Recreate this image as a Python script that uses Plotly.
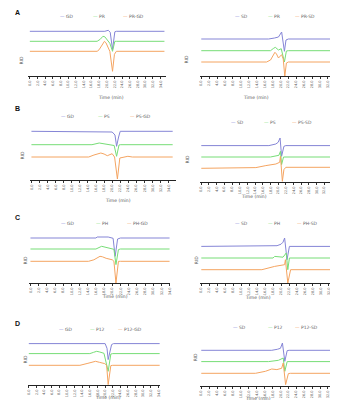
import plotly.graph_objects as go

# ---------------- DATA (time in min, signal in arbitrary units) ----------------
BLUE, GREEN, ORANGE = "#8585d6", "#77dd77", "#f4a461"

# Panel A (left): GD / PR / PR-GD
A1_names = ["GD", "PR", "PR-GD"]
A1_GD_t = [0, 19.5, 20.4, 20.9, 21.5, 22.1, 22.5, 35]
A1_GD_v = [20, 20, 21, 19, 1.7, 19.5, 20, 20]
A1_PR_t = [0, 17.5, 18.3, 19.0, 19.5, 20.0, 20.8, 21.5, 22.1, 22.5, 35]
A1_PR_v = [10, 10, 12, 15, 14.5, 12, 8, 0, 10, 10, 10]
A1_PRGD_t = [0, 17.5, 18.0, 18.5, 19.0, 19.4, 19.8, 20.2, 20.8, 21.5, 22.0, 22.5, 35]
A1_PRGD_v = [0, 0, 1.5, 5, 8.5, 10, 8.5, 5, 0, -20, -3, 0, 0]

# Panel A (right): SD / PR / PR-SD
A2_names = ["SD", "PR", "PR-SD"]
A2_SD_t = [0, 17.0, 18.5, 19.5, 20.3, 20.7, 21.0, 21.4, 22, 35]
A2_SD_v = [23, 23, 24, 25, 30, 20, 10.7, 22, 23, 23]
A2_PR_t = [0, 17.5, 18.2, 18.7, 19.5, 20.2, 21.0, 21.5, 22, 35]
A2_PR_v = [11.3, 11.3, 13.5, 14.7, 12, 13.3, 0, 11, 11.3, 11.3]
A2_PRSD_t = [0, 16.5, 17.5, 18.1, 18.6, 19.0, 19.5, 20.3, 20.7, 21.1, 21.5, 22, 35]
A2_PRSD_v = [0, 0, 2, 7, 9.7, 8, 4, 7.3, 3, -14.3, -1, 0, 0]

# Panel B (left): GD / PS / PS-GD
B1_names = ["GD", "PS", "PS-GD"]
B1_GD_t = [0, 19.0, 20.0, 20.7, 21.1, 21.6, 22.0, 35]
B1_GD_v = [25.7, 25.7, 25, 22, 10.7, 20, 25.7, 25.7]
B1_PS_t = [0, 15, 16.8, 19, 20.5, 21.1, 21.7, 22, 35]
B1_PS_v = [12.3, 12.3, 14, 12.3, 11.5, 0.7, 12, 12.3, 12.3]
B1_PSGD_t = [0, 14.2, 15.5, 16.5, 17.2, 18.0, 18.8, 20.0, 20.6, 21.3, 21.9, 23.9, 25, 35]
B1_PSGD_v = [0, 0, 2, 3.5, 4, 3, 1.3, 3.3, 0, -22, -1, 0.7, 0, 0]

# Panel B (right): SD / PS / PS-SD
B2_names = ["SD", "PS", "PS-SD"]
B2_SD_t = [0, 17.6, 19.4, 20.0, 20.5, 20.9, 21.5, 22, 35]
B2_SD_v = [22.7, 22.7, 24.3, 26, 30.3, 12, 22, 22.7, 22.7]
B2_PS_t = [0, 18, 20.2, 20.6, 20.9, 21.4, 35]
B2_PS_v = [11.3, 11.3, 13, 17, 3.7, 11.3, 11.3]
B2_PSSD_t = [0, 14.2, 16.8, 19.4, 20.4, 20.6, 21.1, 21.5, 22, 35]
B2_PSSD_v = [0, 0.7, 2.7, 4.3, 6, 12, -13, -1.3, 1, 1]

# Panel C (left): GD / PH / PH-GD
C1_names = ["GD", "PH", "PH-GD"]
C1_GD_t = [0, 16.0, 16.3, 19.0, 20.2, 20.7, 21.3, 22, 35]
C1_GD_v = [23.3, 23.3, 24.3, 24.3, 23, 5, 22.3, 23.3, 23.3]
C1_PH_t = [0, 16, 17.4, 19.5, 20.4, 20.9, 21.5, 22, 35]
C1_PH_v = [12.3, 12.3, 15, 13.3, 12, -3.3, 11.7, 12.3, 12.3]
C1_PHGD_t = [0, 14.2, 15.5, 16.5, 17.0, 17.6, 18.5, 20.0, 20.4, 20.9, 21.5, 22, 35]
C1_PHGD_v = [0, 0, 1.5, 3.5, 5, 4.5, 3, 1.5, 0, -21.7, 0, 0, 0]

# Panel C (right): SD / PH / PH-SD
C2_names = ["SD", "PH", "PH-SD"]
C2_SD_t = [0, 17.6, 19.0, 20.0, 20.5, 20.9, 21.5, 22.1, 35]
C2_SD_v = [23.3, 23.3, 24, 25.5, 27.5, 31.7, 10, 23.3, 23.3]
C2_PH_t = [0, 18, 18.4, 20.5, 21.3, 21.7, 22.1, 35]
C2_PH_v = [11.7, 11.7, 13.3, 12.5, 16.7, 0, 11.7, 11.7]
C2_PHSD_t = [0, 15.2, 18.4, 20.9, 21.1, 21.7, 22.4, 35]
C2_PHSD_v = [0, 0, 3.3, 5, 10, -13.3, 0, 0]

# Panel D (left): GD / P12 / P12-GD
D1_names = ["GD", "P12", "P12-GD"]
D1_GD_t = [0, 17, 18.2, 20.0, 20.5, 20.8, 21.7, 22.2, 35]
D1_GD_v = [21.7, 21.7, 22.3, 21.7, 17, 5.7, 20.7, 21.7, 21.7]
D1_P12_t = [0, 16, 17.0, 17.8, 18.6, 19.7, 20.8, 21.5, 22, 35]
D1_P12_v = [11.7, 11.7, 13, 14, 13.3, 12, -6, 11.3, 11.7, 11.7]
D1_P12GD_t = [0, 13.4, 15.5, 16.7, 17.5, 18.5, 19.9, 20.4, 20.8, 21.5, 22, 35]
D1_P12GD_v = [0, 0, 2, 3.5, 4, 3, 1.7, 0, -19.3, -0.3, 0, 0]

# Panel D (right): SD / P12 / P12-SD
D2_names = ["SD", "P12", "P12-SD"]
D2_SD_t = [0, 17.8, 19.2, 20.0, 20.5, 21.1, 21.7, 22.2, 35]
D2_SD_v = [23, 23, 24, 25, 30.3, 12, 22.7, 23, 23]
D2_P12_t = [0, 17, 19.5, 20.7, 21.1, 21.7, 35]
D2_P12_v = [11.7, 11.7, 13, 15.3, 2, 11.7, 11.7]
D2_P12SD_t = [0, 13.7, 16.2, 17.8, 19.1, 20.3, 20.7, 21.3, 22.0, 22.5, 35]
D2_P12SD_v = [0, 0, 2, 4.3, 3.7, 5, 10.3, -11.3, -0.3, 0, 0]

tick_vals = [i * 2 for i in range(18)]
tick_text = [f"{v:.1f}" for v in tick_vals]
x_title = "Time (min)"
y_title = "RID"
panel_letters = ["A", "B", "C", "D"]

# ---------------- LAYOUT ----------------
W, H = 338, 400
def px(x): return x / W
def py(y): return 1 - y / H

panels = [
    dict(s=[(A1_GD_t, A1_GD_v), (A1_PR_t, A1_PR_v), (A1_PRGD_t, A1_PRGD_v)], n=A1_names,
         x0=19, x1=158, xr=[-0.52, 35.3], yt=14, yb=68, yr=[-24.7, 29.3],
         ly=8, lx=[49, 83, 113], yt_pos=(8, 46), xt_pos=(88, 85)),
    dict(s=[(A2_SD_t, A2_SD_v), (A2_PR_t, A2_PR_v), (A2_PRSD_t, A2_PRSD_v)], n=A2_names,
         x0=193, x1=331, xr=[-0.25, 34.3], yt=14, yb=68, yr=[-14, 40],
         ly=8, lx=[226, 259, 287], yt_pos=(179, 45), xt_pos=(264, 85)),
    dict(s=[(B1_GD_t, B1_GD_v), (B1_PS_t, B1_PS_v), (B1_PSGD_t, B1_PSGD_v)], n=B1_names,
         x0=21, x1=168, xr=[-0.4, 35.7], yt=110, yb=172, yr=[-23, 39],
         ly=109, lx=[50, 88, 120], yt_pos=(10, 147), xt_pos=(95, 192)),
    dict(s=[(B2_SD_t, B2_SD_v), (B2_PS_t, B2_PS_v), (B2_PSSD_t, B2_PSSD_v)], n=B2_names,
         x0=193, x1=327, xr=[-0.26, 34.3], yt=122, yb=174, yr=[-13.7, 38.3],
         ly=115, lx=[222, 255, 284], yt_pos=(181, 151), xt_pos=(262, 189)),
    dict(s=[(C1_GD_t, C1_GD_v), (C1_PH_t, C1_PH_v), (C1_PHGD_t, C1_PHGD_v)], n=C1_names,
         x0=20, x1=162, xr=[-0.4, 34.0], yt=220, yb=275, yr=[-21.7, 33.3],
         ly=215, lx=[50, 86, 117], yt_pos=(12, 252), xt_pos=(92, 293)),
    dict(s=[(C2_SD_t, C2_SD_v), (C2_PH_t, C2_PH_v), (C2_PHSD_t, C2_PHSD_v)], n=C2_names,
         x0=193, x1=332, xr=[-0.25, 34.3], yt=222, yb=275, yr=[-13.3, 39.7],
         ly=215, lx=[226, 259, 289], yt_pos=(189, 252), xt_pos=(266, 294)),
    dict(s=[(D1_GD_t, D1_GD_v), (D1_P12_t, D1_P12_v), (D1_P12GD_t, D1_P12GD_v)], n=D1_names,
         x0=19, x1=152, xr=[-0.26, 34.3], yt=326, yb=377, yr=[-19.7, 31.3],
         ly=321, lx=[48, 80, 108], yt_pos=(12, 357), xt_pos=(85, 394)),
    dict(s=[(D2_SD_t, D2_SD_v), (D2_P12_t, D2_P12_v), (D2_P12SD_t, D2_P12SD_v)], n=D2_names,
         x0=193, x1=331, xr=[-0.25, 34.3], yt=326, yb=378, yr=[-12.7, 39.3],
         ly=319, lx=[224, 259, 287], yt_pos=(188, 355), xt_pos=(266, 395)),
]
letter_pos = [(4, 5), (4, 101), (4, 209), (4, 315)]

colors = [BLUE, GREEN, ORANGE]
fig = go.Figure()
annotations = []
layout = {}
for i, p in enumerate(panels):
    k = i + 1
    xa = "x" if k == 1 else f"x{k}"
    ya = "y" if k == 1 else f"y{k}"
    for (t, v), name, c in zip(p["s"], p["n"], colors):
        fig.add_trace(go.Scatter(x=t, y=v, mode="lines", name=name, showlegend=False,
                                 line=dict(color=c, width=1),
                                 xaxis=xa, yaxis=ya))
    xkey = "xaxis" if k == 1 else f"xaxis{k}"
    ykey = "yaxis" if k == 1 else f"yaxis{k}"
    layout[xkey] = dict(domain=[px(p["x0"]), px(p["x1"])], anchor=ya, range=p["xr"],
                        tickvals=tick_vals, ticktext=tick_text, tickangle=-90,
                        tickfont=dict(size=3.5, color="#555", family="DejaVu Sans"),
                        ticks="outside", ticklen=2, tickwidth=0.6, tickcolor="#333",
                        showline=True, linecolor="#222", linewidth=1,
                        showgrid=False, zeroline=False)
    layout[ykey] = dict(domain=[py(p["yb"]), py(p["yt"])], anchor=xa, range=p["yr"],
                        showticklabels=False, showgrid=False, zeroline=False,
                        showline=False, ticks="")
    for name, c, lx in zip(p["n"], colors, p["lx"]):
        annotations.append(dict(x=px(lx), y=py(p["ly"]), xref="paper", yref="paper",
                                xanchor="left", yanchor="middle", showarrow=False,
                                text=f'<span style="color:{c}">—</span> {name}',
                                font=dict(size=4.5, color="#666", family="DejaVu Sans")))
    annotations.append(dict(x=px(p["yt_pos"][0]), y=py(p["yt_pos"][1]), xref="paper", yref="paper",
                            text=y_title, textangle=-90, showarrow=False,
                            font=dict(size=4.5, color="#555", family="DejaVu Sans")))
    annotations.append(dict(x=px(p["xt_pos"][0]), y=py(p["xt_pos"][1]), xref="paper", yref="paper",
                            text=x_title, showarrow=False,
                            font=dict(size=4.5, color="#555", family="DejaVu Sans")))

for L, (lx, ly) in zip(panel_letters, letter_pos):
    annotations.append(dict(x=px(lx), y=py(ly), xref="paper", yref="paper", xanchor="left",
                            yanchor="middle", text=f"<b>{L}</b>", showarrow=False,
                            font=dict(size=7, color="#111", family="Liberation Sans")))

fig.update_layout(width=W, height=H, margin=dict(l=0, r=0, t=0, b=0),
                  paper_bgcolor="white", plot_bgcolor="white", showlegend=False,
                  annotations=annotations, **layout)
fig.write_html("out.html")
